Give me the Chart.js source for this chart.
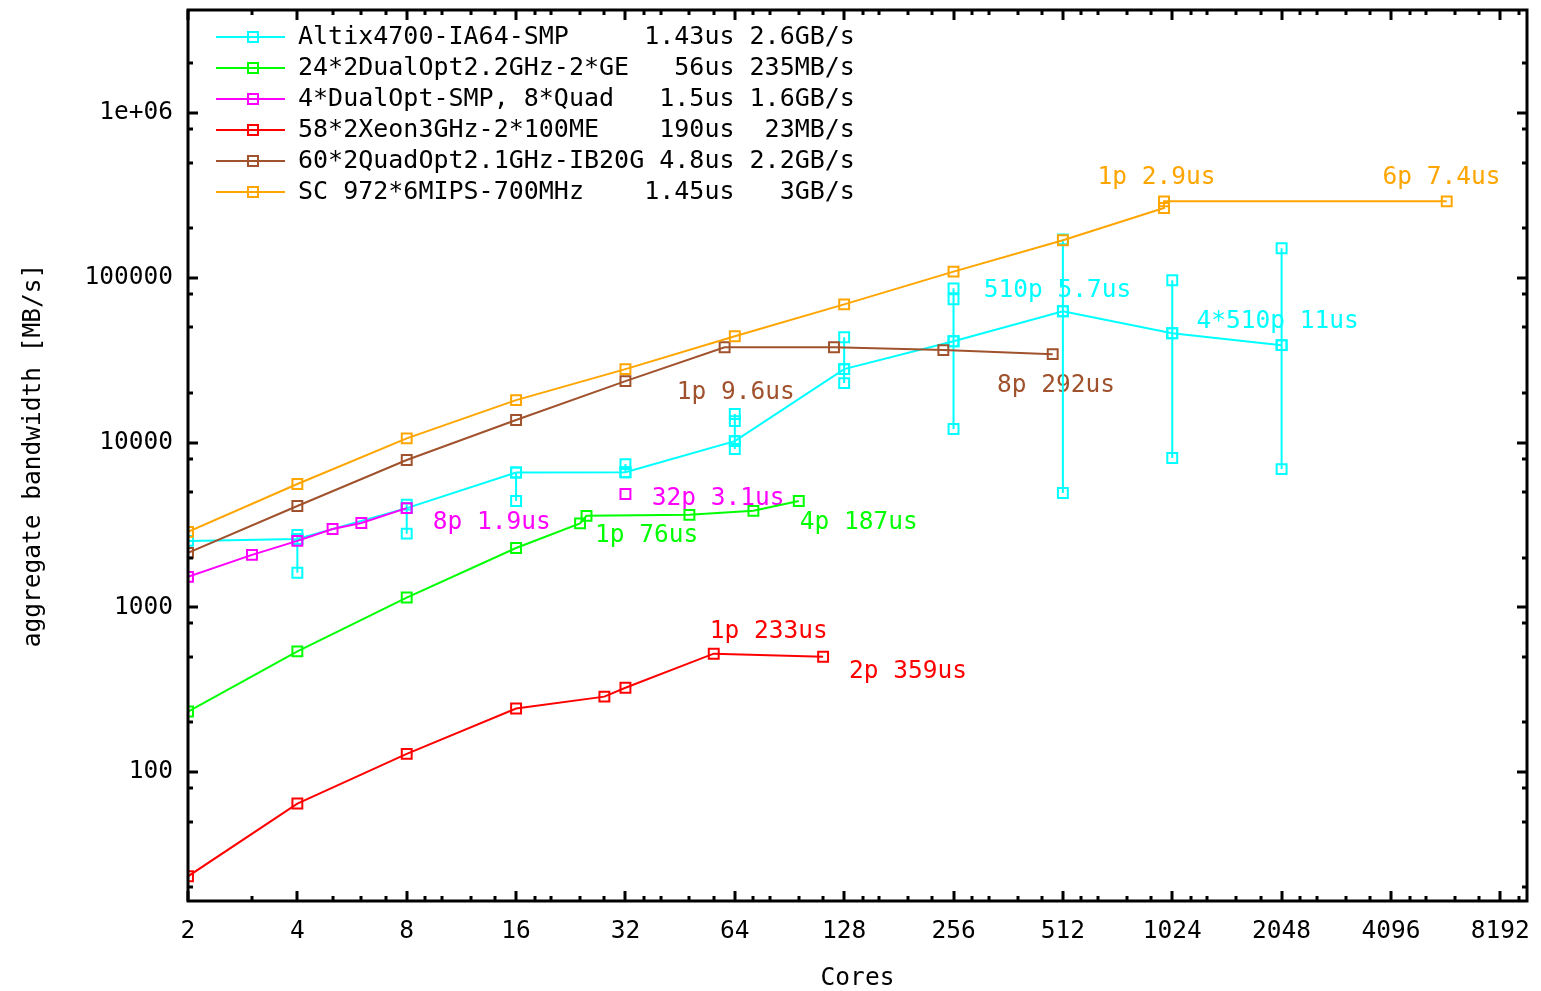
<!DOCTYPE html>
<html>
<head>
<meta charset="utf-8">
<script src="https://cdn.jsdelivr.net/npm/chart.js@4.4.1/dist/chart.umd.min.js"></script>
<style>
  html, body { margin: 0; padding: 0; background: #fff; }
  canvas { display: block; }
</style>
</head>
<body>
<canvas id="chart" width="1541" height="991"></canvas>
<script>
const FONT = "'DejaVu Sans Mono', 'Liberation Mono', monospace";

// x = cores, y = aggregate bandwidth in MB/s
const altixCores = [2, 4, 8, 16, 32, 64, 128, 256, 512, 1024, 2048];
const altixBw = [2530, 2600, 4000, 6580, 6600, 10200, 27900, 41200, 62700, 46100, 39000];
// repeated runs per core count (vertical spread)
const altixRunCores = [4, 8, 16, 32, 64, 128, 256, 512, 1024, 2048];
const altixRuns = [
    [1620, 2600, 2750],
    [2800, 4000, 4200],
    [4420, 6580],
    [6600, 7400],
    [9140, 10200, 13500, 14900],
    [22960, 27900, 43600],
    [12080, 41200, 74100, 86300],
    [4940, 62700, 171000],
    [8050, 46100, 96600],
    [6900, 39000, 151000]
];
const optGeCores = [2, 4, 8, 16, 24, 25, 48, 72, 96];
const optGeBw = [233, 540, 1146, 2290, 3230, 3590, 3640, 3850, 4420];
const dualOptCores = [2, 3, 4, 5, 6, 8];
const dualOptBw = [1530, 2080, 2530, 2990, 3250, 4000];
const quadCores = [32];
const quadBw = [4870];
const xeonCores = [2, 4, 8, 16, 28, 32, 56, 112];
const xeonBw = [23.3, 64.4, 129, 243, 287, 325, 523, 501];
const quadIbCores = [2, 4, 8, 16, 32, 60, 120, 240, 480];
const quadIbBw = [2140, 4120, 7830, 13700, 23600, 37900, 37900, 36400, 34400];
const scCores = [2, 4, 8, 16, 32, 64, 128, 256, 512, 972, 972, 5832];
const scBw = [2870, 5600, 10600, 18100, 27900, 44200, 69000, 109000, 169000, 265000, 291000, 291000];

const legendLabels = [
    'Altix4700-IA64-SMP     1.43us 2.6GB/s',
    '24*2DualOpt2.2GHz-2*GE   56us 235MB/s',
    '4*DualOpt-SMP, 8*Quad   1.5us 1.6GB/s',
    '58*2Xeon3GHz-2*100ME    190us  23MB/s',
    '60*2QuadOpt2.1GHz-IB20G 4.8us 2.2GB/s',
    'SC 972*6MIPS-700MHz    1.45us   3GB/s'
];
const seriesColors = ['#00ffff', '#00ff00', '#ff00ff', '#ff0000', '#a0522d', '#ffa500'];

// point labels (text, cores, MB/s, series colour index)
const noteText = ['6p 7.4us', '1p 2.9us', '510p 5.7us', '4*510p 11us', '1p 9.6us', '8p 292us',
                  '32p 3.1us', '8p 1.9us', '1p 76us', '4p 187us', '1p 233us', '2p 359us'];
const noteCores = [3883, 638, 310, 1195, 44.3, 337, 37.8, 9.44, 26.4, 96.6, 54.6, 132];
const noteBw = [406000, 406000, 84000, 54500, 20200, 22300, 4550, 3250, 2710, 3250, 711, 406];
const noteSeries = [5, 5, 0, 0, 4, 4, 2, 2, 1, 1, 3, 3];

const xTicks = [2, 4, 8, 16, 32, 64, 128, 256, 512, 1024, 2048, 4096, 8192];
const yTicks = [100, 1000, 10000, 100000, 1000000];
const yTickLabels = ['100', '1000', '10000', '100000', '1e+06'];
const X_MIN = 2, X_MAX = 9700, Y_MIN = 16.5, Y_MAX = 4.22e6;

function pts(xs, ys) { return xs.map((x, i) => ({ x, y: ys[i] })); }

function series(idx, data, extra) {
    const c = seriesColors[idx];
    return Object.assign({
        data, borderColor: c, backgroundColor: c, borderWidth: 2,
        pointStyle: 'rect', pointRadius: 7, pointBorderWidth: 2,
        pointBackgroundColor: 'rgba(0,0,0,0)', pointBorderColor: c,
        pointHoverRadius: 7, tension: 0, spanGaps: false, order: 10 - idx
    }, extra || {});
}

const spread = [];
altixRunCores.forEach((c, i) => {
    altixRuns[i].forEach(v => spread.push({ x: c, y: v }));
    spread.push({ x: c, y: null });
});

const datasets = [
    series(0, pts(altixCores, altixBw), { label: 'Altix4700-IA64-SMP', legendLabel: legendLabels[0] }),
    series(0, spread, { label: 'Altix4700 runs' }),
    series(1, pts(optGeCores, optGeBw), { label: '24*2DualOpt2.2GHz-2*GE', legendLabel: legendLabels[1] }),
    series(2, pts(dualOptCores, dualOptBw), { label: '4*DualOpt-SMP', legendLabel: legendLabels[2] }),
    series(2, pts(quadCores, quadBw), { label: '8*Quad' }),
    series(3, pts(xeonCores, xeonBw), { label: '58*2Xeon3GHz-2*100ME', legendLabel: legendLabels[3] }),
    series(4, pts(quadIbCores, quadIbBw), { label: '60*2QuadOpt2.1GHz-IB20G', legendLabel: legendLabels[4] }),
    series(5, pts(scCores, scBw), { label: 'SC 972*6MIPS-700MHz', legendLabel: legendLabels[5] })
];

// gnuplot look: frame, inward ticks on all sides, point labels, key inside plot
const gnuplotDecor = {
    id: 'gnuplotDecor',
    beforeDatasetsDraw(chart) {
        const { ctx } = chart;
        const xs = chart.scales.x, ys = chart.scales.y;
        ctx.save();
        ctx.font = `24.5px ${FONT}`;
        ctx.textBaseline = 'middle';
        ctx.textAlign = 'left';
        noteText.forEach((t, i) => {
            ctx.fillStyle = seriesColors[noteSeries[i]];
            ctx.fillText(t, xs.getPixelForValue(noteCores[i]), ys.getPixelForValue(noteBw[i]));
        });
        ctx.restore();
    },
    afterDatasetsDraw(chart) {
        const { ctx, chartArea } = chart;
        const { left, right, top, bottom } = chartArea;
        const xs = chart.scales.x, ys = chart.scales.y;
        ctx.save();
        ctx.strokeStyle = '#000';
        ctx.lineWidth = 3;
        ctx.strokeRect(left, top, right - left, bottom - top);

        const xMinor = [];
        xTicks.forEach(v => [1.125, 1.25, 1.5, 1.75].forEach(m => {
            const t = v * m;
            if (Number.isInteger(t) && t < X_MAX) xMinor.push(t);
        }));
        const yMinor = [];
        [10, 100, 1000, 10000, 100000, 1000000].forEach(d => [2, 5, 8].forEach(m => {
            const t = d * m;
            if (t > Y_MIN && t < Y_MAX) yMinor.push(t);
        }));

        ctx.beginPath();
        const xTick = (v, len) => {
            const p = Math.round(xs.getPixelForValue(v));
            ctx.moveTo(p, bottom); ctx.lineTo(p, bottom - len);
            ctx.moveTo(p, top); ctx.lineTo(p, top + len);
        };
        const yTick = (v, len) => {
            const p = Math.round(ys.getPixelForValue(v));
            ctx.moveTo(left, p); ctx.lineTo(left + len, p);
            ctx.moveTo(right, p); ctx.lineTo(right - len, p);
        };
        xTicks.forEach(v => xTick(v, 10));
        xMinor.forEach(v => xTick(v, 5));
        yTicks.forEach(v => yTick(v, 10));
        yMinor.forEach(v => yTick(v, 5));
        ctx.stroke();

        // key
        ctx.font = `25px ${FONT}`;
        ctx.textBaseline = 'middle';
        ctx.textAlign = 'left';
        chart.data.datasets.filter(d => d.legendLabel).forEach((d, i) => {
            const y = top + 27 + i * 31;
            ctx.strokeStyle = d.borderColor;
            ctx.lineWidth = 2;
            ctx.beginPath();
            ctx.moveTo(left + 28, y); ctx.lineTo(left + 97, y);
            ctx.stroke();
            ctx.strokeRect(left + 60, y - 5, 10, 10);
            ctx.fillStyle = '#000';
            ctx.fillText(d.legendLabel, left + 110, y);
        });
        ctx.restore();
    }
};

new Chart(document.getElementById('chart'), {
    type: 'line',
    data: { datasets },
    options: {
        responsive: false, devicePixelRatio: 1, animation: false,
        layout: { padding: { left: 0, top: 10, right: 14, bottom: 0 } },
        plugins: { legend: { display: false }, tooltip: { enabled: false } },
        scales: {
            x: {
                type: 'logarithmic', min: X_MIN, max: X_MAX, bounds: 'data',
                grid: { display: false, drawTicks: false },
                border: { display: false },
                afterBuildTicks: (s) => { s.ticks = xTicks.map(v => ({ value: v })); },
                afterFit: (s) => { s.height = 90; s.paddingLeft = 0; s.paddingRight = 0; },
                ticks: {
                    autoSkip: false, maxRotation: 0, padding: 16, color: '#000',
                    font: { family: FONT, size: 24.5 },
                    callback: (v) => String(v)
                },
                title: { display: true, text: 'Cores', color: '#000', font: { family: FONT, size: 24.5, lineHeight: 1 }, padding: { top: 0, bottom: 0 } }
            },
            y: {
                type: 'logarithmic', min: Y_MIN, max: Y_MAX, bounds: 'data',
                grid: { display: false, drawTicks: false },
                border: { display: false },
                afterBuildTicks: (s) => { s.ticks = yTicks.map(v => ({ value: v })); },
                afterFit: (s) => { s.width = 188; s.paddingTop = 0; s.paddingBottom = 0; },
                ticks: {
                    autoSkip: false, padding: 15, color: '#000',
                    font: { family: FONT, size: 24.5 },
                    callback: (v) => yTickLabels[yTicks.indexOf(v)]
                },
                title: { display: true, text: 'aggregate bandwidth [MB/s]', color: '#000', font: { family: FONT, size: 24.5, lineHeight: 1 }, padding: { top: 21, bottom: 0 } }
            }
        }
    },
    plugins: [gnuplotDecor]
});
</script>
</body>
</html>
